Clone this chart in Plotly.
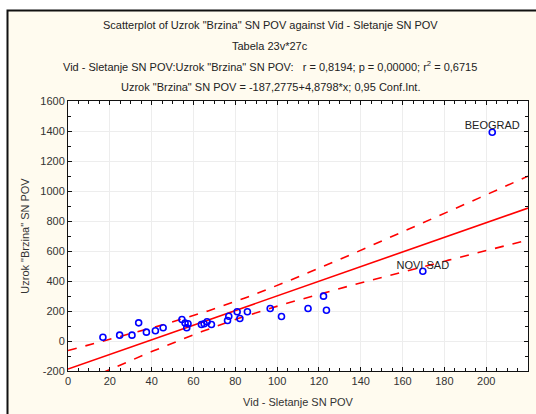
import numpy as np
import plotly.graph_objects as go

# Data
vid_sletanje = [16.7, 24.7, 30.6, 33.8, 37.5, 41.8, 45.5, 54.5, 56.0, 56.8, 57.4,
                63.8, 65.1, 66.5, 68.6, 76.3, 76.9, 80.9, 82.2, 85.8, 96.7, 102.1,
                114.8, 122.2, 123.6, 169.7, 202.9]
uzrok_brzina = [25, 39, 39, 121, 59, 68, 88, 143, 120, 88, 115,
                110, 115, 128, 110, 137, 165, 195, 150, 195, 217, 163,
                217, 299, 205, 465, 1392]
label_names = ["NOVI SAD", "BEOGRAD"]
label_index = [25, 26]

intercept = -187.2775
slope = 4.8798
t_crit = 2.0595  # t(0.975, df=25)

x_ticks = list(range(0, 221, 20))
y_ticks = list(range(-200, 1601, 200))

title_lines = [
    'Scatterplot of Uzrok "Brzina" SN POV against Vid - Sletanje SN POV',
    'Tabela 23v*27c',
    'Vid - Sletanje SN POV:Uzrok "Brzina" SN POV:   r = 0,8194; p = 0,00000; r<sup>2</sup> = 0,6715',
    'Uzrok "Brzina" SN POV = -187,2775+4,8798*x; 0,95 Conf.Int.',
]

# Regression line and 95% confidence band for the mean
x = np.array(vid_sletanje, dtype=float)
y = np.array(uzrok_brzina, dtype=float)
n = len(x)
resid = y - (intercept + slope * x)
s = np.sqrt(np.sum(resid ** 2) / (n - 2))
xbar = x.mean()
sxx = np.sum((x - xbar) ** 2)
xs = np.linspace(0, 220, 221)
fit = intercept + slope * xs
half = t_crit * s * np.sqrt(1.0 / n + (xs - xbar) ** 2 / sxx)

fig = go.Figure()
fig.add_trace(go.Scatter(x=xs, y=fit + half, mode="lines",
                         line=dict(color="#FF0000", width=1.6, dash="dash"),
                         hoverinfo="skip", showlegend=False))
fig.add_trace(go.Scatter(x=xs, y=fit - half, mode="lines",
                         line=dict(color="#FF0000", width=1.6, dash="dash"),
                         hoverinfo="skip", showlegend=False))
fig.add_trace(go.Scatter(x=xs, y=fit, mode="lines",
                         line=dict(color="#FF0000", width=1.6),
                         hoverinfo="skip", showlegend=False))
fig.add_trace(go.Scatter(x=vid_sletanje, y=uzrok_brzina, mode="markers",
                         marker=dict(symbol="circle-open", size=6,
                                     color="#0000FF", line=dict(width=1.6, color="#0000FF")),
                         showlegend=False))
fig.add_trace(go.Scatter(x=[vid_sletanje[i] for i in label_index],
                         y=[uzrok_brzina[i] for i in label_index],
                         mode="text", text=label_names, textposition="top center",
                         textfont=dict(family="Liberation Sans, Arial", size=11, color="#222222"),
                         hoverinfo="skip", showlegend=False))

# Paper-coordinate geometry helpers
L, R, T, B = 68, 8, 101, 43
W, H = 536, 414
pw, ph = W - L - R, H - T - B
def px(xp):
    return (xp - L) / pw
def py(yp):
    return (H - B - yp) / ph

shapes = [
    # white strips outside the frame
    dict(type="rect", xref="paper", yref="paper", x0=px(-5), x1=px(560),
         y0=py(10), y1=py(-5), fillcolor="white", line=dict(width=0), layer="below"),
    dict(type="rect", xref="paper", yref="paper", x0=px(-5), x1=px(7),
         y0=py(430), y1=py(-5), fillcolor="white", line=dict(width=0), layer="below"),
    # frame border
    dict(type="rect", xref="paper", yref="paper", x0=px(7.5), x1=px(560),
         y0=py(430), y1=py(10.5), fillcolor="rgba(0,0,0,0)",
         line=dict(color="#111111", width=2), layer="above"),
]

annotations = []
for i, t in enumerate(title_lines):
    annotations.append(dict(text=t, xref="paper", yref="paper",
                            x=px(270), y=py(25 + i * 20.7), xanchor="center", yanchor="middle",
                            showarrow=False,
                            font=dict(family="Liberation Sans, Arial", size=11, color="#222222")))

axis_font = dict(family="Liberation Sans, Arial", size=11, color="#333333")

fig.update_layout(
    width=W, height=H,
    margin=dict(l=L, r=R, t=T, b=B, pad=0),
    paper_bgcolor="#FFFBEF",
    plot_bgcolor="white",
    shapes=shapes,
    annotations=annotations,
    xaxis=dict(range=[0, 220], tickvals=x_ticks, ticktext=[str(v) for v in x_ticks],
               showline=True, linecolor="#111111", linewidth=1, mirror="allticks",
               ticks="inside", ticklen=4, tickcolor="#111111",
               minor=dict(dtick=5, ticks="inside", ticklen=3, tickcolor="#111111", showgrid=False),
               showgrid=True, gridcolor="#EDEDED", gridwidth=1, zeroline=False,
               tickfont=axis_font,
               title=dict(text="Vid - Sletanje SN POV", font=axis_font, standoff=12)),
    yaxis=dict(range=[-200, 1600], tickvals=y_ticks, ticktext=[str(v) for v in y_ticks],
               showline=True, linecolor="#111111", linewidth=1, mirror="allticks",
               ticks="inside", ticklen=4, tickcolor="#111111",
               minor=dict(dtick=100, ticks="inside", ticklen=3, tickcolor="#111111", showgrid=False),
               showgrid=True, gridcolor="#EDEDED", gridwidth=1, zeroline=False,
               tickfont=axis_font,
               title=dict(text='Uzrok "Brzina" SN POV', font=axis_font, standoff=8)),
    font=dict(family="Liberation Sans, Arial"),
)

fig.write_html("out.html", config={"displayModeBar": False},
               post_script="document.body.style.margin='0';")
